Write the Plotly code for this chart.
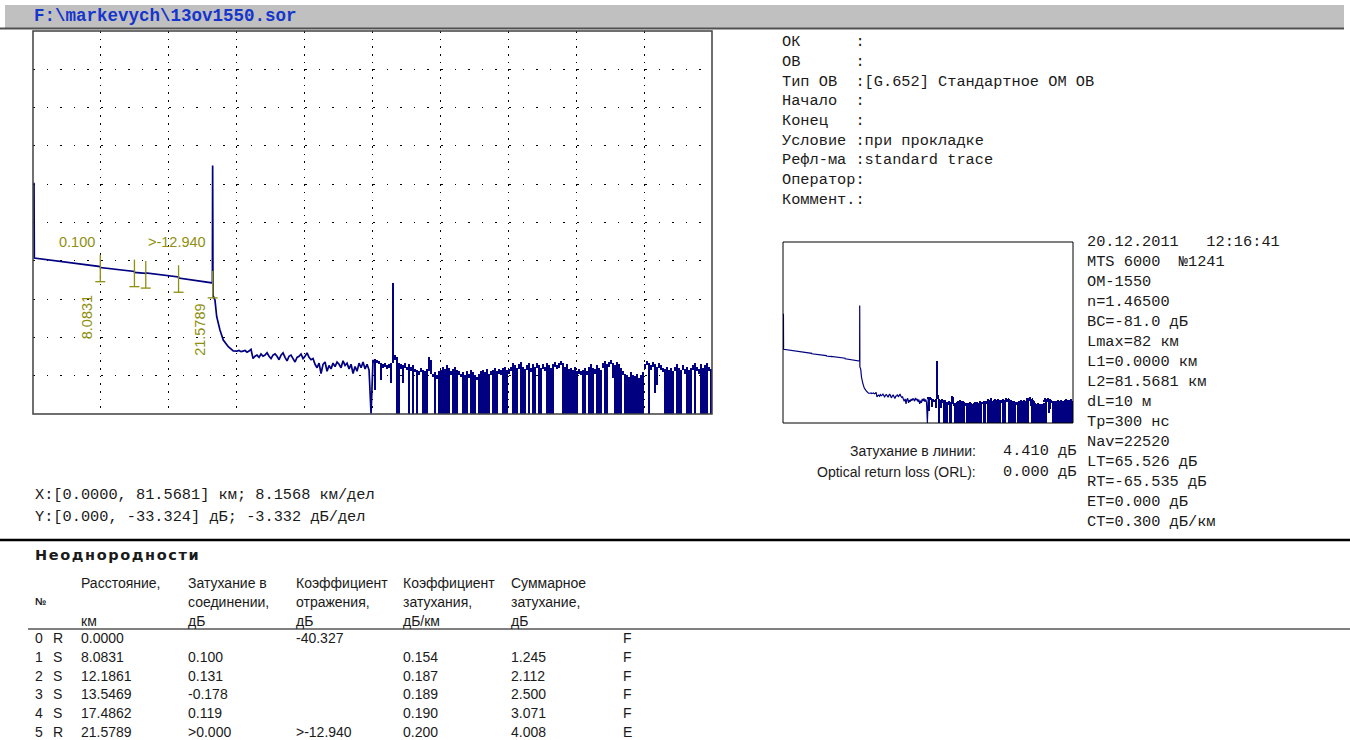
import numpy as np
import plotly.graph_objects as go

W, H = 1350, 740

# ---------------- data ----------------
X_MAX_KM = 81.5681
Y_MIN_DB = -33.324
X_DIV_KM = 8.15681
Y_DIV_DB = 3.3324

# trace: launch, fibre slope, end reflection and its decay (km, dB)
EARLY_KM = [0.12, 0.16, 8.08, 8.10, 12.18, 12.20, 13.54, 13.56, 17.48, 17.50, 21.55,
            21.58, 21.60, 21.62, 21.86, 22.07, 22.46, 22.86, 23.46, 24.06, 24.50]
EARLY_DB = [-13.2, -19.75, -20.50, -20.58, -20.92, -21.00, -21.08, -21.05, -21.40, -21.50, -21.92,
            -11.7, -16.2, -23.0, -23.41, -24.86, -26.02, -26.89, -27.47, -27.84, -27.85]

# decimated samples of the trace after the end reflection
SAMPLE_START_KM = 24.75
SAMPLE_STEP_KM = 0.2403
FLOOR_DB = [-27.8, -27.9, -27.85, -27.8, -27.95, -27.85, -27.7, -28.5, -28.3, -28.2,
            -28.4, -28.1, -28.3, -28.2, -28.0, -28.3, -28.5, -28.2, -28.1, -28.3,
            -28.6, -28.2, -28.0, -28.4, -28.7, -28.3, -28.2, -28.5, -28.8, -28.4,
            -28.3, -28.1, -28.5, -28.3, -28.0, -28.4, -28.6, -28.5, -29.0, -29.3,
            -28.9, -29.8, -29.0, -28.8, -29.6, -29.1, -29.4, -28.9, -29.2, -28.8,
            -29.0, -29.3, -28.7, -29.1, -28.9, -29.4, -29.0, -29.8, -29.2, -29.6,
            -28.9, -29.3, -28.8, -29.4, -29.0, -29.5, -33.3]
# noisy tail: per display column the highest and lowest level
NOISE_TOP_DB = [-28.6, -28.5, -28.6, -28.7, -28.9, -29.0, -28.9, -29.1, -29.0, -28.9,
                -21.9, -28.2, -28.4, -28.9, -29.0, -29.1, -28.9, -29.2, -29.0, -29.2,
                -29.1, -29.4, -29.5, -29.6, -29.3, -29.5, -29.6, -29.4, -28.4, -28.6,
                -29.8, -29.7, -29.9, -29.6, -29.5, -29.2, -29.4, -29.1, -29.3, -29.6,
                -29.4, -29.2, -29.5, -29.6, -29.8, -29.7, -29.9, -29.6, -29.8, -29.5,
                -29.7, -29.9, -30.1, -29.8, -29.6, -29.5, -29.7, -29.4, -29.8, -29.6,
                -29.5, -29.3, -29.6, -29.4, -29.5, -29.3, -29.2, -29.5, -29.4, -29.2,
                -28.9, -29.1, -29.3, -29.0, -28.8, -29.2, -29.4, -29.1, -28.9, -29.3,
                -29.0, -29.2, -28.9, -29.1, -29.3, -29.0, -29.2, -28.9, -29.1, -29.3,
                -29.0, -28.8, -29.1, -28.9, -28.7, -28.9, -29.2, -29.0, -29.4, -29.3,
                -29.5, -29.2, -29.6, -29.4, -29.6, -29.5, -29.3, -29.6, -29.2, -29.0,
                -29.3, -29.4, -29.1, -29.3, -29.5, -28.9, -28.7, -29.0, -28.8, -28.6,
                -28.9, -29.1, -28.8, -29.0, -29.3, -29.6, -29.8, -29.9, -30.1, -29.7,
                -29.9, -30.0, -29.8, -30.2, -29.9, -29.7, -29.0, -28.7, -28.9, -29.1,
                -28.8, -29.0, -29.2, -28.9, -29.1, -29.3, -29.4, -29.2, -29.5, -29.3,
                -29.6, -29.2, -29.0, -29.3, -29.5, -29.1, -29.4, -29.2, -29.5, -29.3,
                -29.1, -28.9, -29.2, -29.4, -29.0, -29.3, -29.1, -28.9, -29.2, -29.4]
NOISE_LOW_DB = [-28.9, -31.2, -28.9, -29.0, -30.4, -29.3, -29.2, -29.4, -29.3, -30.6,
                -28.9, -28.6, -33.3, -33.3, -29.4, -30.6, -29.3, -29.5, -33.3, -29.6,
                -33.3, -29.7, -33.3, -29.9, -29.7, -33.3, -33.3, -33.3, -29.6, -29.8,
                -30.1, -33.3, -30.3, -33.3, -33.3, -33.3, -33.3, -33.3, -33.3, -29.9,
                -33.3, -33.3, -33.3, -29.9, -30.1, -33.3, -33.3, -33.3, -30.2, -33.3,
                -33.3, -33.3, -30.4, -33.3, -33.3, -33.3, -33.3, -33.3, -33.3, -29.9,
                -33.3, -33.3, -33.3, -29.8, -29.9, -33.3, -33.3, -33.3, -29.8, -29.6,
                -33.3, -33.3, -33.3, -29.4, -33.3, -33.3, -33.3, -29.5, -33.3, -29.7,
                -33.3, -33.3, -29.3, -33.3, -33.3, -29.4, -29.6, -33.3, -33.3, -33.3,
                -33.3, -29.2, -29.4, -29.3, -29.1, -33.3, -33.3, -33.3, -33.3, -33.3,
                -33.3, -33.3, -33.3, -29.8, -29.9, -33.3, -33.3, -29.9, -33.3, -33.3,
                -33.3, -29.8, -33.3, -33.3, -33.3, -29.3, -33.3, -33.3, -29.2, -29.0,
                -30.2, -33.3, -33.3, -33.3, -33.3, -29.9, -33.3, -33.3, -33.3, -33.3,
                -33.3, -33.3, -33.3, -33.3, -33.3, -33.3, -29.4, -29.1, -33.3, -29.5,
                -29.2, -31.5, -30.8, -29.3, -29.5, -29.7, -33.3, -33.3, -33.3, -33.3,
                -33.3, -29.6, -33.3, -33.3, -33.3, -29.5, -29.8, -33.3, -33.3, -33.3,
                -29.5, -33.3, -29.6, -29.8, -33.3, -33.3, -33.3, -33.3, -29.6, -33.3]

# events table
EVT_NO = [0, 1, 2, 3, 4, 5]
EVT_TYPE = ["R", "S", "S", "S", "S", "R"]
EVT_DIST_KM = [0.0, 8.0831, 12.1861, 13.5469, 17.4862, 21.5789]
EVT_SPLICE = ["", "0.100", "0.131", "-0.178", "0.119", ">0.000"]
EVT_REFL = ["-40.327", "", "", "", "", ">-12.940"]
EVT_ATT = ["", "0.154", "0.187", "0.189", "0.190", "0.200"]
EVT_TOTAL = ["", "1.245", "2.112", "2.500", "3.071", "4.008"]
EVT_FLAG = ["F", "F", "F", "F", "F", "E"]

TABLE_HEAD = [["Расстояние,", "", "км"],
              ["Затухание в", "соединении,", "дБ"],
              ["Коэффициент", "отражения,", "дБ"],
              ["Коэффициент", "затухания,", "дБ/км"],
              ["Суммарное", "затухание,", "дБ"]]

INFO_LINES = ["ОК      :", "ОВ      :", "Тип ОВ  :[G.652] Стандартное ОМ ОВ", "Начало  :",
              "Конец   :", "Условие :при прокладке", "Рефл-ма :standard trace",
              "Оператор:", "Коммент.:"]
PARAM_LINES = ["20.12.2011   12:16:41", "MTS 6000  №1241", "ОМ-1550", "n=1.46500",
               "BC=-81.0 дБ", "Lmax=82 км", "L1=0.0000 км", "L2=81.5681 км", "dL=10 м",
               "Tp=300 нс", "Nav=22520", "LT=65.526 дБ", "RT=-65.535 дБ", "ET=0.000 дБ",
               "CT=0.300 дБ/км"]
LOSS_LABELS = ["Затухание в линии:", "Optical return loss (ORL):"]
LOSS_VALUES = ["4.410 дБ", "0.000 дБ"]
SCALE_LINES = ["X:[0.0000, 81.5681] км; 8.1568 км/дел",
               "Y:[0.000, -33.324] дБ; -3.332 дБ/дел"]
FILE_NAME = "F:\\markevych\\13ov1550.sor"
TABLE_TITLE = "Неоднородности"

# ---------------- build trace ----------------
n_floor = len(FLOOR_DB)
floor_km = [SAMPLE_START_KM + i * SAMPLE_STEP_KM for i in range(n_floor)]
noise_km = [SAMPLE_START_KM + (n_floor + j) * SAMPLE_STEP_KM for j in range(len(NOISE_TOP_DB))]
line_km = EARLY_KM + floor_km + noise_km[:1]
line_db = EARLY_DB + FLOOR_DB + NOISE_TOP_DB[:1]
span_db = [t - lo for t, lo in zip(NOISE_TOP_DB, NOISE_LOW_DB)]


def PX(x):
    return x / W


def PY(y):
    return 1 - y / H


def nb(s):
    return s.replace(" ", "\u00a0")


NAVY = "#000080"
OLIVE = "#8f8f10"
MONO = "Liberation Mono, Courier New, monospace"
SANS = "Liberation Sans, Arial, sans-serif"
INK = "#1a1a1a"

fig = go.Figure()
for xa, ya, lw in (("x", "y", 1.7), ("x2", "y2", 1.2)):
    fig.add_trace(go.Scatter(x=line_km, y=line_db, mode="lines",
                             line=dict(color=NAVY, width=lw, simplify=False), xaxis=xa, yaxis=ya,
                             showlegend=False, hoverinfo="skip"))
    # min/max display columns of the noisy tail
    fig.add_trace(go.Bar(x=noise_km, y=span_db, base=NOISE_LOW_DB, width=SAMPLE_STEP_KM * 1.08,
                         marker=dict(color=NAVY, line=dict(width=0)), xaxis=xa, yaxis=ya,
                         showlegend=False, hoverinfo="skip"))

# event markers on the main trace
base_km = EARLY_KM[:11]
base_db = EARLY_DB[:11]
mx, my = [], []
for d in EVT_DIST_KM[1:]:
    lvl = float(np.interp(d, base_km, base_db))
    top, bot = lvl + 1.05, lvl - 1.3
    mx += [d, d, None, d - 0.6, d + 0.6, None]
    my += [top, bot, None, bot, bot, None]
fig.add_trace(go.Scatter(x=mx, y=my, mode="lines", line=dict(color=OLIVE, width=1.3),
                         xaxis="x", yaxis="y", showlegend=False, hoverinfo="skip"))

ann = []
lab_font = dict(family=SANS, size=14.5, color=OLIVE)
ann.append(dict(x=EVT_DIST_KM[1], y=-18.36, xref="x", yref="y", text=EVT_SPLICE[1],
                xanchor="right", yanchor="middle", xshift=-3, showarrow=False, font=lab_font))
ann.append(dict(x=EVT_DIST_KM[5], y=-18.36, xref="x", yref="y", text=EVT_REFL[5],
                xanchor="right", yanchor="middle", xshift=-5, showarrow=False, font=lab_font))
ann.append(dict(x=EVT_DIST_KM[1], y=-24.88, xref="x", yref="y", text=f"{EVT_DIST_KM[1]:.4f}",
                xanchor="center", yanchor="middle", xshift=-13, textangle=-90,
                showarrow=False, font=lab_font))
ann.append(dict(x=EVT_DIST_KM[5], y=-26.0, xref="x", yref="y", text=f"{EVT_DIST_KM[5]:.4f}",
                xanchor="center", yanchor="middle", xshift=-12.6, textangle=-90,
                showarrow=False, font=lab_font))


def txt(x, y, s, font, anchor="left", raw=False):
    ann.append(dict(x=PX(x), y=PY(y), xref="paper", yref="paper", text=s if raw else nb(s),
                    xanchor=anchor, yanchor="middle", showarrow=False, font=font))


mono = dict(family=MONO, size=15.3, color=INK)
sans = dict(family=SANS, size=14, color=INK)

# header
txt(32, 16, FILE_NAME, dict(family=MONO, size=17.5, color="#1535cc", weight="bold"))

for i, s in enumerate(INFO_LINES):
    txt(780, 42 + i * 19.75, s, mono)
for i, s in enumerate(PARAM_LINES):
    txt(1085, 242 + i * 20, s, mono)
for i, (a, b) in enumerate(zip(LOSS_LABELS, LOSS_VALUES)):
    txt(978, 451 + i * 21, a, sans, anchor="right")
    txt(1001, 451 + i * 21, b, mono)
for i, s in enumerate(SCALE_LINES):
    txt(33, 495 + i * 22, s, mono)

# table
txt(33, 555, '<span style="letter-spacing:1.6px">' + TABLE_TITLE + "</span>",
    dict(family="DejaVu Sans, sans-serif", size=14.5, color=INK, weight="bold"), raw=True)
txt(33, 601, "№", dict(family=SANS, size=10, color=INK, weight="bold"))
col_x = [79, 186, 294, 401, 509]
for cx, lines in zip(col_x, TABLE_HEAD):
    for j, s in enumerate(lines):
        if s:
            txt(cx, 583 + j * 19, s, sans)
for r in range(len(EVT_NO)):
    y = 638 + r * 18.8
    txt(33, y, str(EVT_NO[r]), sans)
    txt(51, y, EVT_TYPE[r], sans)
    txt(79, y, f"{EVT_DIST_KM[r]:.4f}", sans)
    txt(186, y, EVT_SPLICE[r], sans)
    txt(294, y, EVT_REFL[r], sans)
    txt(401, y, EVT_ATT[r], sans)
    txt(509, y, EVT_TOTAL[r], sans)
    txt(621, y, EVT_FLAG[r], sans)

shapes = []
# header bar
shapes.append(dict(type="rect", xref="paper", yref="paper", x0=PX(5), x1=PX(1344), y0=PY(28), y1=PY(5),
                   fillcolor="#c0c0c0", line=dict(width=0), layer="below"))
shapes.append(dict(type="line", xref="paper", yref="paper", x0=PX(0), x1=PX(1344), y0=PY(28.5), y1=PY(28.5),
                   line=dict(color="#505050", width=2)))
# plot frames
shapes.append(dict(type="rect", xref="paper", yref="paper", x0=PX(33), x1=PX(712), y0=PY(414), y1=PY(31),
                   line=dict(color="#404040", width=1.5)))
shapes.append(dict(type="rect", xref="paper", yref="paper", x0=PX(783), x1=PX(1073), y0=PY(423), y1=PY(242),
                   line=dict(color="#000000", width=1)))
# table separators
shapes.append(dict(type="line", xref="paper", yref="paper", x0=0, x1=1, y0=PY(540), y1=PY(540),
                   line=dict(color="#000000", width=2.5)))
shapes.append(dict(type="line", xref="paper", yref="paper", x0=PX(28), x1=1, y0=PY(629), y1=PY(629),
                   line=dict(color="#000000", width=1)))

fig.update_layout(
    width=W, height=H, margin=dict(l=0, r=0, t=0, b=0),
    paper_bgcolor="white", plot_bgcolor="white", barmode="overlay", bargap=0,
    xaxis=dict(domain=[PX(33), PX(712)], range=[0, X_MAX_KM], tick0=0, dtick=X_DIV_KM,
               showticklabels=False, ticks="", zeroline=False, showline=False,
               showgrid=True, gridcolor="#000000", gridwidth=1.2, griddash="1.6px,6.06px"),
    yaxis=dict(domain=[PY(414), PY(31)], range=[Y_MIN_DB, 0], tick0=0, dtick=Y_DIV_DB,
               showticklabels=False, ticks="", zeroline=False, showline=False,
               showgrid=True, gridcolor="#000000", gridwidth=1.2, griddash="1.6px,12px"),
    xaxis2=dict(domain=[PX(783), PX(1073)], range=[0, X_MAX_KM], anchor="y2",
                showticklabels=False, ticks="", zeroline=False, showgrid=False),
    yaxis2=dict(domain=[PY(423), PY(242)], range=[Y_MIN_DB, 0], anchor="x2",
                showticklabels=False, ticks="", zeroline=False, showgrid=False),
    annotations=ann, shapes=shapes, showlegend=False,
)

fig.write_html("out.html", config={"displayModeBar": False},
               post_script="document.body.style.margin='0px';")
